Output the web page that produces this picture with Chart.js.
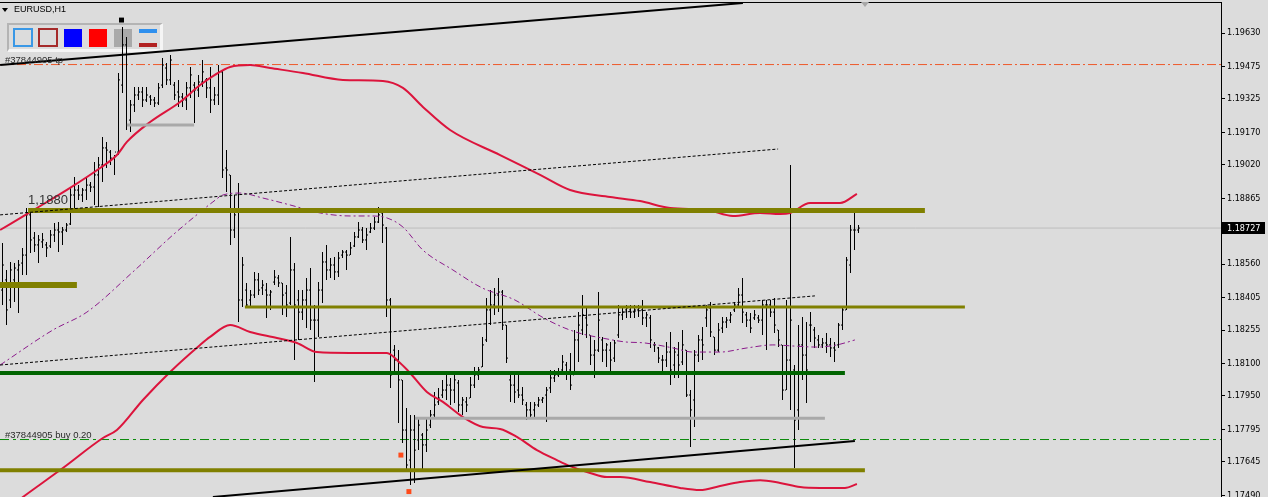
<!DOCTYPE html>
<html>
<head>
<meta charset="utf-8">
<script src="https://cdn.jsdelivr.net/npm/chart.js@4.4.1/dist/chart.umd.min.js"></script>
<style>
html,body{margin:0;padding:0;background:#DCDCDC;}
#wrap{position:relative;width:1268px;height:497px;overflow:hidden;background:#DCDCDC;}
#c{position:absolute;left:0;top:0;z-index:1;}
.ui{position:absolute;box-sizing:border-box;z-index:0;}
#title{position:absolute;left:14px;top:4px;z-index:2;font:9px 'Liberation Sans',Arial,sans-serif;color:#000;white-space:nowrap;}
#tri{position:absolute;left:2px;top:8px;z-index:2;width:0;height:0;border-left:3px solid transparent;border-right:3px solid transparent;border-top:4px solid #000;}
#shift{position:absolute;left:861px;top:2px;z-index:2;width:0;height:0;border-left:4px solid transparent;border-right:4px solid transparent;border-top:5px solid #A8A8A8;}
</style>
</head>
<body>
<div id="wrap">
  <div class="ui" style="left:7px;top:23px;width:156px;height:29px;border-top:2px solid #B4B4B4;border-left:2px solid #B4B4B4;border-right:3px solid #F5F5F5;border-bottom:3px solid #F5F5F5;"></div>
  <div class="ui" style="left:13px;top:28px;width:20px;height:19px;border:2px solid #3A98E6;"></div>
  <div class="ui" style="left:38px;top:28px;width:20px;height:19px;border:2px solid #A52A2A;"></div>
  <div class="ui" style="left:64px;top:29px;width:18px;height:18px;background:#0000FF;"></div>
  <div class="ui" style="left:89px;top:29px;width:18px;height:18px;background:#FF0000;"></div>
  <div class="ui" style="left:114px;top:29px;width:18px;height:18px;background:#A9A9A9;"></div>
  <div class="ui" style="left:139px;top:29px;width:18px;height:4px;background:#2F90EE;"></div>
  <div class="ui" style="left:139px;top:43px;width:18px;height:4px;background:#B22222;"></div>
  <canvas id="c" width="1268" height="497"></canvas>
  <div id="tri"></div>
  <div id="title">EURUSD,H1</div>
  <div id="shift"></div>
</div>
<script>
// ---------- OHLC data (EURUSD H1), bar index 0..214 ----------
const highs = [1.18658,1.18533,1.18570,1.18565,1.18579,1.18635,1.18820,1.18801,1.18709,1.18695,
1.18704,1.18663,1.18718,1.18751,1.18755,1.18732,1.18751,1.18913,1.18963,1.18926,
1.18913,1.18959,1.18940,1.19033,1.19056,1.19149,1.19126,1.19088,1.19065,1.19445,
1.19658,1.19612,1.19320,1.19380,1.19380,1.19380,1.19380,1.19343,1.19334,1.19399,
1.19514,1.19491,1.19528,1.19403,1.19413,1.19352,1.19403,1.19473,1.19403,1.19436,
1.19505,1.19422,1.19473,1.19380,1.19482,1.19459,1.19088,1.18973,1.18880,1.18936,
1.18593,1.18473,1.18440,1.18524,1.18519,1.18487,1.18473,1.18440,1.18533,1.18510,
1.18473,1.18463,1.18686,1.18565,1.18440,1.18440,1.18496,1.18542,1.18371,1.18477,
1.18616,1.18649,1.18588,1.18593,1.18616,1.18625,1.18625,1.18663,1.18709,1.18755,
1.18732,1.18727,1.18751,1.18778,1.18825,1.18820,1.18732,1.18403,1.18186,1.18162,
1.18024,1.17894,1.17862,1.17862,1.17848,1.17778,1.17848,1.17885,1.17968,1.17987,
1.18024,1.18061,1.18033,1.18061,1.18024,1.17945,1.17945,1.18037,1.18084,1.18084,
1.18223,1.18403,1.18440,1.18450,1.18496,1.18440,1.18278,1.18061,1.18047,1.18047,
1.17991,1.17922,1.17922,1.17922,1.17945,1.17945,1.17991,1.18070,1.18070,1.18079,
1.18139,1.18107,1.18149,1.18255,1.18338,1.18417,1.18357,1.18232,1.18209,1.18431,
1.18223,1.18195,1.18200,1.18209,1.18371,1.18362,1.18371,1.18371,1.18371,1.18371,
1.18394,1.18338,1.18325,1.18200,1.18176,1.18139,1.18200,1.18246,1.18176,1.18200,
1.18255,1.18162,1.17977,1.18162,1.18232,1.18269,1.18371,1.18385,1.18223,1.18288,
1.18315,1.18315,1.18338,1.18385,1.18450,1.18496,1.18338,1.18334,1.18348,1.18325,
1.18394,1.18394,1.18394,1.18403,1.18255,1.18186,1.18394,1.19019,1.18093,1.18278,
1.18315,1.18292,1.18338,1.18269,1.18232,1.18218,1.18241,1.18218,1.18200,1.18288,
1.18362,1.18593,1.18741,1.18797,1.18741];
const lows = [1.18371,1.18278,1.18357,1.18385,1.18334,1.18510,1.18510,1.18612,1.18616,1.18565,
1.18635,1.18593,1.18635,1.18663,1.18616,1.18649,1.18709,1.18741,1.18820,1.18857,
1.18848,1.18857,1.18894,1.18834,1.18825,1.18940,1.19005,1.19019,1.18973,1.19065,
1.19352,1.19181,1.19172,1.19264,1.19320,1.19288,1.19311,1.19297,1.19288,1.19297,
1.19376,1.19389,1.19389,1.19320,1.19288,1.19288,1.19274,1.19329,1.19214,1.19334,
1.19380,1.19329,1.19260,1.19297,1.19297,1.18959,1.18894,1.18649,1.18681,1.18292,
1.18362,1.18357,1.18362,1.18403,1.18417,1.18417,1.18311,1.18348,1.18463,1.18454,
1.18325,1.18315,1.18371,1.18116,1.18209,1.18301,1.18264,1.18255,1.18014,1.18223,
1.18380,1.18487,1.18496,1.18487,1.18500,1.18588,1.18533,1.18602,1.18639,1.18681,
1.18658,1.18625,1.18704,1.18718,1.18751,1.18658,1.18315,1.17987,1.18047,1.17825,
1.17732,1.17598,1.17537,1.17547,1.17699,1.17607,1.17690,1.17801,1.17852,1.17908,
1.17940,1.17931,1.17908,1.17917,1.17875,1.17862,1.17875,1.17940,1.17987,1.18024,
1.18084,1.18200,1.18278,1.18325,1.18338,1.18255,1.18102,1.17922,1.17917,1.17940,
1.17908,1.17838,1.17848,1.17848,1.17899,1.17917,1.17829,1.17963,1.18014,1.18037,
1.18056,1.18024,1.17977,1.18047,1.18107,1.18232,1.18218,1.18093,1.18033,1.18153,
1.18107,1.18084,1.18047,1.18107,1.18218,1.18301,1.18311,1.18311,1.18311,1.18315,
1.18278,1.18269,1.18172,1.18153,1.18102,1.18061,1.18084,1.18000,1.18033,1.18033,
1.18093,1.17945,1.17713,1.17806,1.18107,1.18116,1.18269,1.18223,1.18139,1.18153,
1.18241,1.18264,1.18288,1.18338,1.18362,1.18288,1.18269,1.18241,1.18301,1.18288,
1.18232,1.18162,1.18315,1.18241,1.18176,1.17931,1.17977,1.17885,1.17616,1.17792,
1.18024,1.17917,1.18200,1.18172,1.18172,1.18172,1.18149,1.18130,1.18107,1.18172,
1.18255,1.18348,1.18519,1.18625,1.18704];
const opens = [1.18440,1.18487,1.18394,1.18487,1.18533,1.18565,1.18602,1.18788,1.18681,1.18649,
1.18663,1.18649,1.18644,1.18695,1.18718,1.18709,1.18718,1.18746,1.18880,1.18903,
1.18880,1.18903,1.18926,1.18917,1.18973,1.19019,1.19098,1.19079,1.19051,1.19079,
1.19389,1.19575,1.19227,1.19297,1.19343,1.19357,1.19320,1.19334,1.19320,1.19306,
1.19389,1.19468,1.19413,1.19389,1.19357,1.19334,1.19320,1.19376,1.19389,1.19366,
1.19403,1.19413,1.19376,1.19320,1.19343,1.19450,1.19005,1.18973,1.18718,1.18811,
1.18394,1.18440,1.18394,1.18417,1.18487,1.18450,1.18440,1.18417,1.18477,1.18496,
1.18473,1.18426,1.18380,1.18533,1.18394,1.18338,1.18394,1.18440,1.18301,1.18301,
1.18440,1.18570,1.18533,1.18556,1.18524,1.18602,1.18616,1.18602,1.18644,1.18686,
1.18718,1.18672,1.18709,1.18727,1.18755,1.18797,1.18727,1.18394,1.18162,1.18116,
1.18024,1.17792,1.17653,1.17792,1.17746,1.17769,1.17723,1.17815,1.17862,1.17922,
1.17954,1.17977,1.18000,1.17977,1.18010,1.17908,1.17922,1.17940,1.18000,1.18047,
1.18084,1.18209,1.18348,1.18371,1.18417,1.18431,1.18278,1.18024,1.18000,1.17977,
1.17954,1.17908,1.17885,1.17885,1.17908,1.17931,1.17954,1.17987,1.18033,1.18047,
1.18070,1.18093,1.18070,1.18047,1.18209,1.18255,1.18311,1.18232,1.18139,1.18162,
1.18209,1.18162,1.18162,1.18125,1.18232,1.18325,1.18348,1.18348,1.18338,1.18348,
1.18348,1.18311,1.18311,1.18186,1.18172,1.18116,1.18116,1.18153,1.18093,1.18139,
1.18107,1.18162,1.17954,1.17931,1.18139,1.18209,1.18311,1.18357,1.18223,1.18162,
1.18264,1.18292,1.18301,1.18348,1.18371,1.18417,1.18325,1.18301,1.18311,1.18311,
1.18301,1.18371,1.18371,1.18338,1.18255,1.18186,1.17977,1.18116,1.18070,1.17885,
1.18186,1.18139,1.18278,1.18255,1.18209,1.18186,1.18195,1.18186,1.18172,1.18186,
1.18278,1.18348,1.18556,1.18718,1.18718];
const closes = [1.18556,1.18348,1.18533,1.18542,1.18556,1.18602,1.18788,1.18672,1.18649,1.18672,
1.18672,1.18635,1.18695,1.18718,1.18709,1.18718,1.18741,1.18880,1.18903,1.18880,
1.18903,1.18926,1.18917,1.18973,1.19019,1.19098,1.19088,1.19051,1.19079,1.19413,
1.19575,1.19204,1.19297,1.19343,1.19357,1.19320,1.19343,1.19320,1.19306,1.19376,
1.19482,1.19413,1.19505,1.19343,1.19334,1.19320,1.19376,1.19436,1.19366,1.19403,
1.19450,1.19376,1.19320,1.19343,1.19450,1.18996,1.18996,1.18718,1.18788,1.18394,
1.18556,1.18371,1.18417,1.18487,1.18440,1.18463,1.18417,1.18431,1.18500,1.18473,
1.18417,1.18371,1.18533,1.18371,1.18338,1.18394,1.18440,1.18301,1.18301,1.18440,
1.18570,1.18533,1.18556,1.18524,1.18588,1.18616,1.18602,1.18635,1.18686,1.18718,
1.18672,1.18695,1.18727,1.18755,1.18788,1.18741,1.18394,1.18047,1.18116,1.18024,
1.17792,1.17630,1.17792,1.17699,1.17815,1.17723,1.17792,1.17862,1.17908,1.17940,
1.17977,1.18000,1.17977,1.18024,1.17908,1.17931,1.17908,1.18000,1.18047,1.18070,
1.18186,1.18348,1.18371,1.18417,1.18431,1.18278,1.18125,1.18000,1.17968,1.17954,
1.17931,1.17885,1.17862,1.17908,1.17931,1.17940,1.17977,1.18033,1.18047,1.18061,
1.18107,1.18061,1.18000,1.18209,1.18278,1.18325,1.18278,1.18139,1.18162,1.18301,
1.18162,1.18186,1.18116,1.18195,1.18325,1.18338,1.18357,1.18338,1.18348,1.18357,
1.18311,1.18325,1.18209,1.18186,1.18125,1.18116,1.18153,1.18070,1.18153,1.18093,
1.18186,1.17954,1.17885,1.18139,1.18209,1.18186,1.18348,1.18246,1.18162,1.18255,
1.18292,1.18301,1.18325,1.18371,1.18417,1.18338,1.18301,1.18264,1.18325,1.18301,
1.18371,1.18371,1.18338,1.18278,1.18209,1.17977,1.18116,1.18301,1.17838,1.18186,
1.18139,1.18070,1.18278,1.18218,1.18186,1.18195,1.18186,1.18172,1.18162,1.18278,
1.18348,1.18579,1.18718,1.18718,1.18727];

// ---------- Envelope / band indicator (x = bar index) ----------
const upperX = [-0.6,6.9,16.9,24.4,28.6,31.1,36.9,44.4,49.4,53.1,56.9,61.9,66.9,75.1,85.1,95.1,100.1,105.1,111.9,124.4,134.4,141.9,151.9,159.4,166.9,176.1,182.6,189.4,194.4,196.9,201.9,209.4,213.6];
const upperY = [1.18718,1.18801,1.18913,1.19005,1.19065,1.19126,1.19218,1.19311,1.19389,1.19436,1.19473,1.19482,1.19468,1.19445,1.19413,1.19408,1.19376,1.19288,1.19181,1.19065,1.18973,1.18903,1.18871,1.18852,1.18820,1.18811,1.18783,1.18797,1.18792,1.18797,1.18843,1.18843,1.18885];
const lowerX = [-0.6,5.1,15.1,25.1,28.6,35.1,41.9,49.4,51.9,56.9,61.9,68.6,73.6,78.6,86.9,96.1,99.4,101.9,106.1,110.1,115.1,120.1,124.4,128.6,133.6,138.6,141.9,146.9,151.1,154.4,161.9,169.4,174.4,179.4,184.4,189.4,194.4,199.4,204.4,210.6,213.6];
const lowerY = [1.17403,1.17482,1.17616,1.17755,1.17792,1.17931,1.18061,1.18186,1.18223,1.18278,1.18246,1.18218,1.18195,1.18153,1.18149,1.18149,1.18102,1.18056,1.17968,1.17922,1.17852,1.17806,1.17797,1.17760,1.17699,1.17653,1.17625,1.17593,1.17574,1.17574,1.17551,1.17524,1.17514,1.17533,1.17551,1.17560,1.17547,1.17528,1.17524,1.17524,1.17542];
const midX = [-0.6,12.6,21.1,32.6,42.6,49.4,52.6,55.1,59.4,65.1,71.9,79.4,86.9,91.9,96.1,100.1,105.1,112.6,119.9,128.1,134.9,140.6,144.9,149.9,155.6,160.6,167.6,172.6,179.4,186.1,192.6,197.6,203.6,208.6,213.1];
const midY = [1.18093,1.18255,1.18338,1.18524,1.18695,1.18801,1.18848,1.18880,1.18889,1.18866,1.18834,1.18797,1.18783,1.18783,1.18774,1.18732,1.18625,1.18533,1.18450,1.18394,1.18315,1.18264,1.18237,1.18218,1.18200,1.18195,1.18172,1.18153,1.18153,1.18172,1.18186,1.18181,1.18176,1.18186,1.18209];

// ---------- Horizontal level objects ----------
const levelPrice = [1.18808, 1.18463, 1.18362, 1.17606, 1.18056, 1.19204, 1.17846];
const levelStart = [6.4, -1, 60.6, -1, -1, 31.1, 103.1];
const levelEnd   = [230.6, 18.6, 240.6, 215.6, 210.6, 47.9, 205.6];
const levelColor = ['#808000','#808000','#808000','#808000','#006400','#A9A9A9','#A9A9A9'];
const levelWidth = [5, 6, 3, 4, 4, 3, 3];
const levelLabel = '1,1880';

// ---------- Trend lines [x1, y1, x2, y2] ----------
const trendSolid  = [[-0.6, 1.19482, 185.1, 1.19769], [52.6, 1.17482, 213.1, 1.17741]];
const trendDotted = [[-0.6, 1.18788, 193.9, 1.19093], [-0.6, 1.18093, 203.1, 1.18413]];

// ---------- Order lines ----------
const tpPrice = 1.19484;
const buyPrice = 1.17748;
const lastPrice = closes[closes.length - 1];

// ---------- Markers ----------
const orangeMarkX = [99.6, 101.6];
const orangeMarkY = [1.17676, 1.17507];
const blackMarkX = [29.75];
const blackMarkY = [1.19690];

// ---------- Axis ----------
const yTicks = [1.19630,1.19475,1.19325,1.19170,1.19020,1.18865,1.18560,1.18405,1.18255,1.18100,1.17950,1.17795,1.17645,1.17490];
const yMin = 1.174819, yMax = 1.19769;
const xMin = -0.625, xMax = 304.625;

const FONT = "'DejaVu Sans Condensed','Liberation Sans',Arial,sans-serif";

const datasets = [];
// OHLC high-low
datasets.push({type:'bar', data: highs.map((h,i)=>({x:i, y:[lows[i], h]})),
  backgroundColor:'#000', borderWidth:0, barThickness:1, inflateAmount:0, grouped:false, order:10});
datasets.push({type:'scatter', data: opens.map((o,i)=>({x:i-0.25, y:o})),
  pointStyle:'line', pointRadius:0.5, pointHoverRadius:0.5, pointBorderWidth:1, pointBorderColor:'#000', order:10});
datasets.push({type:'scatter', data: closes.map((c,i)=>({x:i+0.25, y:c})),
  pointStyle:'line', pointRadius:0.5, pointHoverRadius:0.5, pointBorderWidth:1, pointBorderColor:'#000', order:10});

// order lines (background)
const lineDs = (pts, color, width, dash, order) => ({type:'line', data: pts, borderColor: color, borderWidth: width,
  borderDash: dash || [], pointRadius:0, fill:false, borderCapStyle:'butt', order: order});
datasets.push(lineDs([{x:xMin,y:lastPrice},{x:xMax,y:lastPrice}], '#BDBDBD', 1, [], 20));
datasets.push(lineDs([{x:xMin,y:tpPrice},{x:xMax,y:tpPrice}], '#EE5A2A', 1, [9,3,2,3], 20));
datasets.push(lineDs([{x:xMin,y:buyPrice},{x:xMax,y:buyPrice}], '#0A8A0A', 1, [9,4,3,4], 20));

// bands
datasets.push(Object.assign(lineDs(midX.map((x,i)=>({x, y:midY[i]})), '#8B1A8B', 1, [6,3,2,3], 5), {cubicInterpolationMode:'monotone'}));
datasets.push(Object.assign(lineDs(upperX.map((x,i)=>({x, y:upperY[i]})), '#DC143C', 2, [], 5), {cubicInterpolationMode:'monotone'}));
datasets.push(Object.assign(lineDs(lowerX.map((x,i)=>({x, y:lowerY[i]})), '#DC143C', 2, [], 5), {cubicInterpolationMode:'monotone'}));

// horizontal objects
levelPrice.forEach((p,k)=>{
  datasets.push(lineDs([{x:levelStart[k],y:p},{x:levelEnd[k],y:p}], levelColor[k], levelWidth[k], [], 2));
});
// trend lines
trendSolid.forEach(t=>datasets.push(lineDs([{x:t[0],y:t[1]},{x:t[2],y:t[3]}], '#000', 2, [], 1)));
trendDotted.forEach(t=>datasets.push(lineDs([{x:t[0],y:t[1]},{x:t[2],y:t[3]}], '#000', 1, [3,2], 1)));
// markers
datasets.push({type:'scatter', data: orangeMarkX.map((x,i)=>({x, y:orangeMarkY[i]})), pointStyle:'rect',
  pointRadius:3.5, pointBackgroundColor:'#FF4A1A', pointBorderWidth:0, order:0});
datasets.push({type:'scatter', data: blackMarkX.map((x,i)=>({x, y:blackMarkY[i]})), pointStyle:'rect',
  pointRadius:3.5, pointBackgroundColor:'#000', pointBorderWidth:0, order:0});

const overlay = {
  id:'overlay',
  afterDatasetsDraw(chart){
    const {ctx, scales:{x, y}} = chart;
    ctx.save();
    ctx.fillStyle = '#2b2b2b';
    ctx.textBaseline = 'alphabetic';
    ctx.textAlign = 'left';
    ctx.font = "9.5px 'Liberation Sans',Arial,sans-serif";
    ctx.fillText('#37844905 tp', 5, Math.round(y.getPixelForValue(tpPrice)) - 2);
    ctx.fillText('#37844905 buy 0.20', 5, Math.round(y.getPixelForValue(buyPrice)) - 2);
    ctx.font = "13px 'Liberation Sans',Arial,sans-serif";
    ctx.fillStyle = '#333';
    ctx.fillText(levelLabel, x.getPixelForValue(levelStart[0]), y.getPixelForValue(levelPrice[0]) - 7);
    ctx.restore();
  },
  afterDraw(chart){
    const {ctx, chartArea, scales:{y}} = chart;
    ctx.save();
    ctx.fillStyle = '#000';
    ctx.fillRect(0, 2, chartArea.right + 1, 1);
    const py = Math.round(y.getPixelForValue(lastPrice));
    ctx.fillRect(chartArea.right + 1, py - 6, 43, 12);
    ctx.fillStyle = '#fff';
    ctx.font = "9px " + FONT;
    ctx.textBaseline = 'middle';
    ctx.fillText(lastPrice.toFixed(5), chartArea.right + 6, py + 0.5);
    ctx.restore();
  }
};

new Chart(document.getElementById('c'), {
  type:'scatter',
  data:{datasets},
  options:{
    responsive:false, animation:false, devicePixelRatio:1, events:[],
    layout:{autoPadding:false, padding:{left:0, right:0, top:3, bottom:0}},
    plugins:{legend:{display:false}, tooltip:{enabled:false}},
    scales:{
      x:{type:'linear', min:xMin, max:xMax, display:false, offset:false},
      y:{type:'linear', position:'right', min:yMin, max:yMax,
        afterBuildTicks:(s)=>{ s.ticks = yTicks.map(v=>({value:v})); },
        afterFit:(s)=>{ s.width = 47; s.paddingTop = 0; s.paddingBottom = 0; },
        ticks:{color:'#000', padding:2, autoSkip:false, maxRotation:0,
          font:{family:FONT, size:9}, callback:(v)=>Number(v).toFixed(5)},
        grid:{drawOnChartArea:false, drawTicks:true, tickLength:4, tickColor:'#000', color:'#000'},
        border:{display:true, color:'#000', width:1}
      }
    }
  },
  plugins:[overlay]
});
</script>
</body>
</html>
